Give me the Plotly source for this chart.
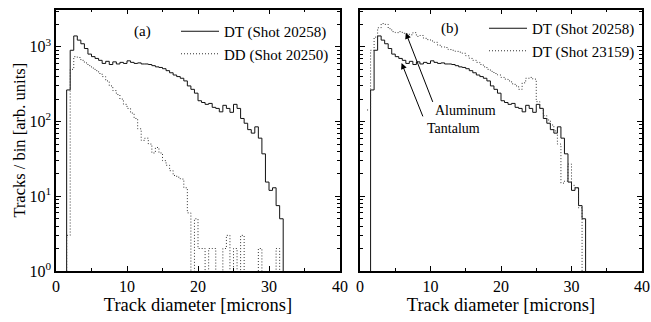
import numpy as np
import plotly.graph_objects as go

# ---------------- data ----------------
bin_left = [1.0, 1.5, 2.0, 2.5, 3.0, 3.5, 4.0, 4.5, 5.0, 5.5,
            6.0, 6.5, 7.0, 7.5, 8.0, 8.5, 9.0, 9.5, 10.0, 10.5,
            11.0, 11.5, 12.0, 12.5, 13.0, 13.5, 14.0, 14.5, 15.0, 15.5,
            16.0, 16.5, 17.0, 17.5, 18.0, 18.5, 19.0, 19.5, 20.0, 20.5,
            21.0, 21.5, 22.0, 22.5, 23.0, 23.5, 24.0, 24.5, 25.0, 25.5,
            26.0, 26.5, 27.0, 27.5, 28.0, 28.5, 29.0, 29.5, 30.0, 30.5,
            31.0, 31.5]
bin_width = 0.5

dt_20258 = [0, 265, 900, 1400, 1230, 1100, 950, 800, 740, 700,
            660, 600, 640, 580, 630, 590, 620, 600, 650, 620,
            600, 610, 590, 590, 580, 560, 540, 530, 510, 480,
            450, 420, 400, 380, 350, 300, 270, 240, 190, 180,
            170, 175, 155, 150, 135, 165, 150, 133, 170, 150,
            110, 95, 78, 70, 85, 60, 37, 15.5, 12, 13,
            7.5, 5]

dd_20250 = [0, 3, 500, 740, 720, 660, 610, 560, 520, 480,
            440, 400, 350, 300, 260, 230, 200, 170, 150, 130,
            110, 80, 56, 60, 50, 38, 45, 38, 30, 26,
            22, 19, 18, 17, 13, 6, 0, 5, 2, 2,
            0, 2, 2, 0, 0, 2, 3, 0, 2, 0,
            3, 0, 0, 0, 0, 2, 0, 0, 0, 0,
            2, 0]

dt_23159 = [143, 900, 1350, 1800, 2050, 2000, 1750, 1600, 1550, 1600,
            1520, 1500, 1450, 1550, 1380, 1420, 1300, 1250, 1200, 1150,
            1050, 1000, 980, 920, 900, 870, 850, 820, 760, 700,
            660, 620, 580, 540, 500, 470, 440, 420, 390, 370,
            350, 320, 300, 270, 330, 380, 390, 370, 185, 150,
            120, 105, 90, 75, 50, 15, 16, 27, 14, 13,
            7, 0]

legend_a = ["DT (Shot 20258)", "DD (Shot 20250)"]
legend_b = ["DT (Shot 20258)", "DT (Shot 23159)"]
x_ticks = [0, 10, 20, 30, 40]
x_minor = [5, 15, 25, 35]
y_ticks = [1, 10, 100, 1000]
y_ticktext = ["10<sup>0</sup>", "10<sup>1</sup>", "10<sup>2</sup>", "10<sup>3</sup>"]

FLOOR = 1e-2  # empty bins drawn below the visible log range


def steps(values):
    x = list(bin_left) + [bin_left[-1] + bin_width]
    v = [val if val > 0 else FLOOR for val in values]
    y = v + [FLOOR]
    return x, y


FONT = "Liberation Serif"
BLACK = "#111111"
W, H = 651, 322

fig = go.Figure()

x, y = steps(dt_20258)
fig.add_trace(go.Scatter(x=x, y=y, mode="lines", line_shape="hv",
                         line=dict(color=BLACK, width=1), name=legend_a[0],
                         xaxis="x", yaxis="y", legend="legend"))
x, y = steps(dd_20250)
fig.add_trace(go.Scatter(x=x, y=y, mode="lines", line_shape="hv",
                         line=dict(color="#333333", width=1, dash="1px,2px"), name=legend_a[1],
                         xaxis="x", yaxis="y", legend="legend"))
x, y = steps(dt_20258)
fig.add_trace(go.Scatter(x=x, y=y, mode="lines", line_shape="hv",
                         line=dict(color=BLACK, width=1), name=legend_b[0],
                         xaxis="x2", yaxis="y2", legend="legend2"))
x, y = steps(dt_23159)
fig.add_trace(go.Scatter(x=x, y=y, mode="lines", line_shape="hv",
                         line=dict(color="#333333", width=1, dash="1px,2px"), name=legend_b[1],
                         xaxis="x2", yaxis="y2", legend="legend2"))

minor_y = [m * 10 ** e for e in range(0, 4) for m in range(2, 10)]

xaxis_common = dict(range=[0, 40], tickvals=x_ticks, ticks="inside", ticklen=5,
                    tickwidth=1.2, tickcolor="black", showline=True, linecolor="black",
                    linewidth=1.5, mirror="allticks", showgrid=False, zeroline=False,
                    automargin=False,
                    tickfont=dict(family=FONT, size=16, color="black"),
                    minor=dict(tickvals=x_minor, ticks="inside", ticklen=3,
                               tickcolor="black", showgrid=False),
                    title=dict(text="Track diameter [microns]",
                               font=dict(family=FONT, size=18.5, color="black"), standoff=2))
yaxis_common = dict(type="log", range=[0, 3.5], tickvals=y_ticks, ticks="inside",
                    ticklen=5, tickwidth=1.2, tickcolor="black", showline=True,
                    linecolor="black", linewidth=1.5, mirror="allticks",
                    showgrid=False, zeroline=False, automargin=False,
                    tickfont=dict(family=FONT, size=16, color="black"),
                    minor=dict(tickvals=minor_y, ticks="inside", ticklen=3,
                               tickcolor="black", showgrid=False))

fig.update_layout(
    width=W, height=H,
    margin=dict(l=0, r=0, t=0, b=0, autoexpand=False),
    paper_bgcolor="white", plot_bgcolor="white",
    font=dict(family=FONT, size=16, color="black"),
    xaxis=dict(domain=[56 / W, 340 / W], anchor="y", **xaxis_common),
    xaxis2=dict(domain=[360 / W, 642 / W], anchor="y2", **xaxis_common),
    yaxis=dict(domain=[51 / H, 312.5 / H], anchor="x", ticktext=y_ticktext,
               title=dict(text="Tracks / bin [arb. units]",
                          font=dict(family=FONT, size=16.5, color="black"), standoff=0),
               **yaxis_common),
    yaxis2=dict(domain=[51 / H, 312.5 / H], anchor="x2", showticklabels=False,
                **yaxis_common),
    legend=dict(x=176 / W, y=1 - 15 / H, xanchor="left", yanchor="top",
                bgcolor="rgba(0,0,0,0)", font=dict(family=FONT, size=15, color="black"),
                itemwidth=38, tracegroupgap=0),
    legend2=dict(x=484 / W, y=1 - 12 / H, xanchor="left", yanchor="top",
                 bgcolor="rgba(0,0,0,0)", font=dict(family=FONT, size=15, color="black"),
                 itemwidth=38, tracegroupgap=0),
)

ann_font = dict(family=FONT, size=15, color="black")
label_font = dict(family=FONT, size=14, color="black")
fig.add_annotation(x=12.2, y=3.2, xref="x", yref="y", text="(a)", showarrow=False, font=ann_font)
fig.add_annotation(x=12.7, y=3.24, xref="x2", yref="y2", text="(b)", showarrow=False, font=ann_font)
# arrows (head at x/y, tail at ax/ay; log axis positions are given in log10 units)
fig.add_annotation(x=6.5, y=np.log10(1540), ax=10.4, ay=np.log10(175), xref="x2", yref="y2",
                   axref="x2", ayref="y2", text="", showarrow=True, arrowhead=2,
                   arrowsize=1.2, arrowwidth=1, arrowcolor="black", standoff=0)
fig.add_annotation(x=5.9, y=np.log10(606), ax=9.0, ay=np.log10(112), xref="x2", yref="y2",
                   axref="x2", ayref="y2", text="", showarrow=True, arrowhead=2,
                   arrowsize=1.2, arrowwidth=1, arrowcolor="black", standoff=0)
fig.add_annotation(x=10.3, y=np.log10(140), xref="x2", yref="y2", text="Aluminum",
                   showarrow=False, xanchor="left", font=label_font)
fig.add_annotation(x=9.2, y=np.log10(82), xref="x2", yref="y2", text="Tantalum",
                   showarrow=False, xanchor="left", font=label_font)

fig.write_html("out.html", config={"displayModeBar": False},
               post_script="document.body.style.margin='0';")
